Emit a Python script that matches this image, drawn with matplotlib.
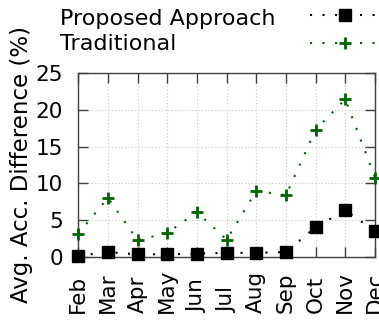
import matplotlib
matplotlib.use('Agg')
import matplotlib.pyplot as plt

months = ['Feb', 'Mar', 'Apr', 'May', 'Jun', 'Jul', 'Aug', 'Sep', 'Oct', 'Nov', 'Dec']
proposed = [0.2, 0.7, 0.4, 0.4, 0.5, 0.6, 0.6, 0.7, 4.1, 6.35, 3.55]
traditional = [3.2, 8.05, 2.3, 3.3, 6.1, 2.4, 9.0, 8.4, 17.3, 21.4, 10.8]
series_names = ['Proposed Approach', 'Traditional']
yticks = [0, 5, 10, 15, 20, 25]

plt.rcParams['font.family'] = 'DejaVu Sans'
plt.rcParams['font.size'] = 15.5

W, H = 379, 320
fig = plt.figure(figsize=(W / 100, H / 100), dpi=100)
ax = fig.add_axes([0.2066, 0.196, 0.7828, 0.5768])

x = list(range(len(months)))
dots = (0, (1, 5))
l1, = ax.plot(x, proposed, color='black', linestyle=dots, linewidth=1.5,
              marker='s', markersize=9, clip_on=False, zorder=3)
l2, = ax.plot(x, traditional, color='#006400', linestyle=dots, linewidth=1.5,
              marker='+', markersize=9, markeredgewidth=2, clip_on=False, zorder=3)

ax.set_xlim(0, len(months) - 1)
ax.set_ylim(0, 25)
ax.set_xticks(x)
ax.set_xticklabels(months, rotation=90, va='bottom', ha='center')
ax.set_yticks(yticks)
ax.tick_params(direction='in', length=7, width=1, color='#404040',
               top=True, right=True)
ax.tick_params(axis='y', pad=11)
ax.tick_params(axis='x', pad=40)
ax.grid(True, linestyle=(0, (1, 2)), color='#c8c8c8', linewidth=0.8)
for s in ax.spines.values():
    s.set_color('#404040')
    s.set_linewidth(1)

ax.set_ylabel('Avg. Acc. Difference (%)', fontsize=16.5, labelpad=2)

# gnuplot-like key: left-aligned labels, samples on the right
fig.text(60 / W, 1 - 25 / H, series_names[0], fontsize=16, va='baseline', ha='left')
fig.text(60 / W, 1 - 50 / H, series_names[1], fontsize=16, va='baseline', ha='left')
fig.legend([l1, l2], ['', ''], loc='upper right', bbox_to_anchor=(381 / W, 1 - 7 / H),
           frameon=False, handlelength=3.2, handletextpad=0, fontsize=16,
           borderpad=0, borderaxespad=0, labelspacing=0.33)

plt.savefig('out.png', dpi=100)
